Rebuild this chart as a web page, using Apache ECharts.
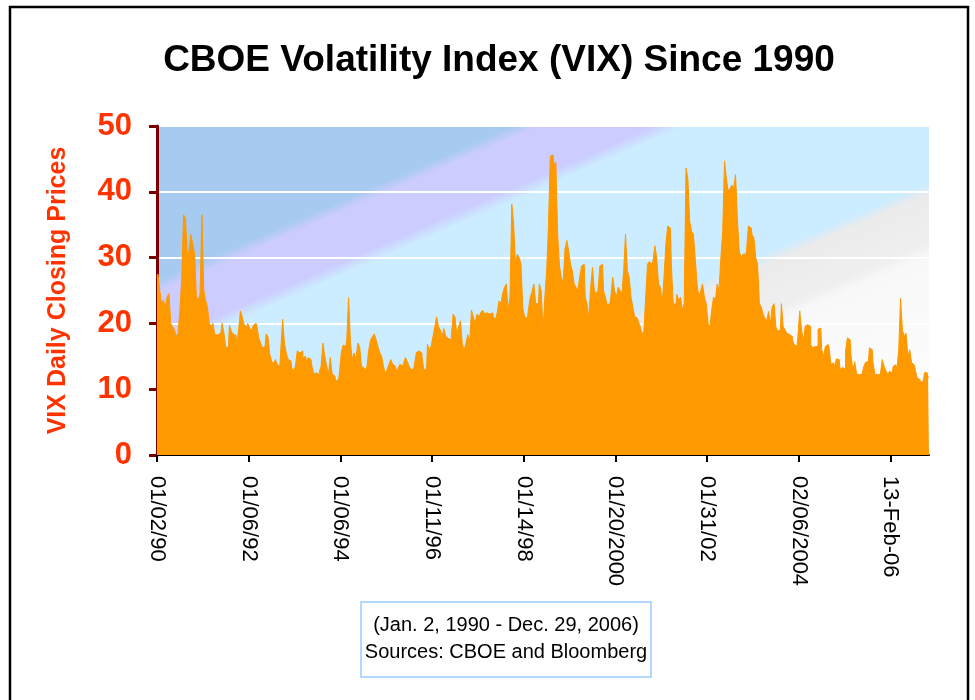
<!DOCTYPE html>
<html>
<head>
<meta charset="utf-8">
<title>CBOE Volatility Index (VIX) Since 1990</title>
<script src="https://cdn.jsdelivr.net/npm/echarts@6/dist/echarts.min.js"></script>
<style>
html, body { margin: 0; padding: 0; background: #fff; }
#chart { width: 975px; height: 700px; }
</style>
</head>
<body>
<div id="chart"></div>
<script>
// VIX closes, one reading every 10 trading days
// each block is 50 readings = 500 trading days, starting at a tick label
var vix1990 = [27, 27.5, 25, 23, 23.5, 22.5, 24, 24.5, 20, 19.5,
	19, 18, 18.5, 22, 27, 36.5, 36, 30.5, 31, 33.5,
	32, 30.5, 24, 23.5, 24.5, 36.5, 25, 23.5, 22.5, 20,
	19.5, 20, 18.4, 18.2, 18.5, 17.8, 20, 18.5, 16.3, 16.5,
	19.7, 18.8, 18.4, 18.2, 17, 19, 21.9, 21, 19.8, 19.5];
var vix1992 = [20, 19.3, 18.8, 19.7, 20, 19.5, 17.8, 17, 16.3, 16.5,
	18.4, 18, 15.3, 14.3, 13.8, 14.5, 13.8, 13.5, 16, 20.6,
	17, 15.5, 14.5, 14.3, 13.2, 12.8, 13.5, 15.8, 15.5, 15.8,
	14.8, 15, 14.2, 14.8, 14.5, 13.5, 12.3, 12.5, 12.2, 12.6,
	13.5, 17, 15, 13.5, 12.3, 14.8, 12.3, 12, 11.2, 11.5];
var vix1994 = [12.5, 15.5, 16.7, 16.5, 17.5, 23.9, 17, 14.5, 15.5, 14.5,
	17, 16.5, 13.5, 13.2, 12.8, 13.5, 16, 17.5, 18, 18.4,
	17.5, 16.5, 15.5, 15, 13.5, 12.3, 13, 13.8, 14.5, 13.8,
	13.5, 12.8, 13.2, 13.8, 13.5, 14, 14.8, 14.2, 13.5, 13,
	13, 14, 15.6, 15.8, 15.5, 15, 12.9, 13, 16.8, 16];
var vix1996 = [16.5, 18, 19.5, 21, 19.5, 19, 18, 19.2, 18, 17.7,
	17.5, 18, 21.4, 21, 18.3, 19.5, 20.4, 16.8, 16, 17,
	18.3, 17, 22, 21, 20, 21.4, 21, 21.6, 22, 21.5,
	21.6, 21.4, 21.5, 21.6, 21, 20.5, 21.6, 23.4, 23, 24.5,
	25.5, 26, 22, 24, 38.1, 35, 29, 30.5, 30, 29];
var vix1998 = [22.3, 21, 20.8, 22, 23.9, 24.8, 26, 23, 23, 26,
	25, 18.8, 24, 28, 35, 45.4, 45.6, 44, 44.5, 33.6,
	28.7, 27, 26.2, 31.3, 32.6, 31, 29, 28, 26, 25.5,
	25, 27, 28.7, 29, 24, 23, 20.8, 25.5, 28.5, 25,
	24.5, 25, 28.7, 29, 25, 24, 22.8, 23, 24, 27];
var vix2000 = [25, 24, 25.5, 25, 24.5, 28, 33.6, 28, 27, 24,
	22.5, 21, 20.8, 20.3, 19.5, 18.4, 18.8, 24, 29, 29.4,
	29, 29.5, 31.8, 30, 26, 25.5, 23, 27, 32, 34.8,
	34.5, 29, 23, 22.9, 24.4, 23.5, 24, 22, 23, 43.6,
	42, 35.5, 34, 33.6, 30, 26, 24, 25, 26, 24];
var vix2002 = [23, 20, 19.4, 22, 24, 23.5, 26, 25, 30, 34,
	44.7, 42, 40.1, 40.5, 41, 40.6, 42.6, 36, 31, 30,
	30.5, 30.5, 31, 34.8, 34.5, 33.5, 33, 30, 29, 23,
	22.5, 21.4, 20.8, 20.4, 21.8, 20, 22.5, 23, 19.5, 18.8,
	19, 23, 19.5, 19, 18.5, 18.3, 18, 17.5, 16.8, 16.5];
var vix2004 = [18, 21.9, 19, 17.3, 19.6, 19.8, 19.5, 16.8, 16.3, 16.5,
	16.5, 19.1, 19.3, 16, 15, 16.5, 16.8, 16.3, 13.8, 14,
	13.3, 14.6, 14.5, 13, 13.3, 13, 15.8, 17.8, 17.5, 15,
	12.8, 14.2, 12.3, 12.2, 12.3, 12.5, 13.5, 14.1, 14.2, 16.3,
	16, 14, 12.3, 12.2, 12.3, 12.5, 14.5, 13.5, 12.8, 12.3];
var vix2006 = [12.7, 12.5, 13.5, 13.7, 13, 16, 23.8, 19, 18, 18.5,
	15, 16, 14, 13.7, 13, 11.7, 11.5, 11, 11.3, 12.5,
	12.5, 11.8];

var tickLabels = ['01/02/90', '01/06/92', '01/06/94', '01/11/96', '01/14/98',
	'01/20/2000', '01/31/02', '02/06/2004', '13-Feb-06'];

var vix = [].concat(vix1990, vix1992, vix1994, vix1996, vix1998,
	vix2000, vix2002, vix2004, vix2006);
var tradingDay = vix.map(function (v, i) { return i * 10; });

var font = 'Arial, "Liberation Sans", sans-serif';

// diagonal picture fill behind the plot
var plotFill = {
	type: 'linear', global: true,
	x: 157, y: 126, x2: 400, y2: 685,
	colorStops: [
		{offset: 0, color: '#A6CAF0'},
		{offset: 0.232, color: '#A6CAF0'},
		{offset: 0.25, color: '#CCCCFF'},
		{offset: 0.325, color: '#CCCCFF'},
		{offset: 0.345, color: '#CCECFF'},
		{offset: 0.59, color: '#CCECFF'},
		{offset: 0.607, color: '#EBEBEB'},
		{offset: 0.68, color: '#EFEFEF'},
		{offset: 0.70, color: '#F8F8F8'},
		{offset: 1, color: '#FFFFFF'}
	]
};

var chart = echarts.init(document.getElementById('chart'));
chart.setOption({
	animation: false,
	backgroundColor: '#fff',
	grid: {
		left: 157, top: 126, width: 772, height: 329,
		show: true, borderWidth: 0,
		backgroundColor: plotFill
	},
	xAxis: {
		type: 'category',
		data: tradingDay,
		boundaryGap: false,
		axisLine: {lineStyle: {color: '#000', width: 2}},
		axisTick: {interval: 49, length: 7, lineStyle: {color: '#000', width: 2}},
		axisLabel: {
			interval: 49, rotate: -90, margin: 21,
			color: '#000', fontFamily: font, fontSize: 22,
			formatter: function (v, idx) { return tickLabels[idx / 50]; }
		},
		splitLine: {show: false}
	},
	yAxis: {
		type: 'value', min: 0, max: 50, interval: 10,
		name: 'VIX Daily Closing Prices',
		nameLocation: 'middle', nameGap: 86, nameRotate: 90,
		nameTextStyle: {color: '#FF3300', fontSize: 25, fontWeight: 'bold', fontFamily: font},
		axisLine: {show: true, lineStyle: {color: '#7A0000', width: 3}},
		axisTick: {show: true, length: 8, lineStyle: {color: '#7A0000', width: 3}},
		axisLabel: {color: '#FF3300', fontSize: 31, fontWeight: 'bold', fontFamily: font, margin: 25},
		splitLine: {lineStyle: {color: '#fff', width: 2}}
	},
	series: [
		{
			name: 'VIX',
			type: 'line',
			data: vix,
			step: 'middle',
			symbol: 'none',
			lineStyle: {color: '#FF9900', width: 1},
			areaStyle: {color: '#FF9900', opacity: 1}
		}
	],
	graphic: [
		{
			type: 'rect', silent: true,
			shape: {x: 10, y: 7, width: 958, height: 720},
			style: {fill: null, stroke: '#000', lineWidth: 2.5}
		},
		{
			type: 'text', silent: true, x: 499, y: 61,
			style: {
				text: 'CBOE Volatility Index (VIX) Since 1990',
				font: 'bold 37px ' + font, fill: '#000',
				textAlign: 'center', textVerticalAlign: 'middle'
			}
		},
		{
			type: 'rect', silent: true,
			shape: {x: 361, y: 602, width: 290, height: 75},
			style: {fill: '#fff', stroke: '#99CCFF', lineWidth: 1.5}
		},
		{
			type: 'text', silent: true, x: 506, y: 625,
			style: {
				text: '(Jan. 2, 1990 - Dec. 29, 2006)',
				font: '20px ' + font, fill: '#000',
				textAlign: 'center', textVerticalAlign: 'middle'
			}
		},
		{
			type: 'text', silent: true, x: 506, y: 652,
			style: {
				text: 'Sources: CBOE and Bloomberg',
				font: '20px ' + font, fill: '#000',
				textAlign: 'center', textVerticalAlign: 'middle'
			}
		}
	]
});
</script>
</body>
</html>
